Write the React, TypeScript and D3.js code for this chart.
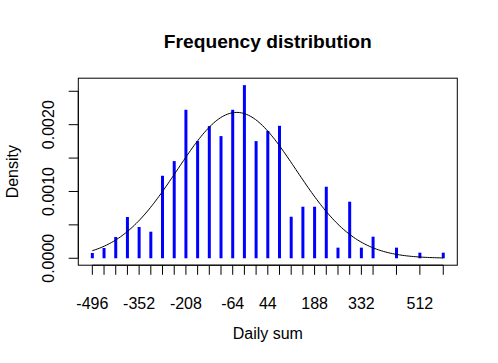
import React from "react";
import * as d3 from "d3";

const dailySums = [-496, -460, -424, -388, -352, -316, -280, -244, -208, -172, -136, -100, -64, -28, 8, 44, 80, 116, 152, 188, 224, 260, 296, 332, 368, 440, 512, 584];
const densities = [0.0000793, 0.000154, 0.000319, 0.000618, 0.000468, 0.000398, 0.001235, 0.001455, 0.002223, 0.001754, 0.001979, 0.001829, 0.002223, 0.002592, 0.001754, 0.001906, 0.001983, 0.000622, 0.000772, 0.000772, 0.001071, 0.000159, 0.000847, 0.000159, 0.000323, 0.000159, 0.000084, 0.000084];
const xLabelled = [-496, -352, -208, -64, 44, 188, 332, 512];
const yTicks = [0, 0.0005, 0.001, 0.0015, 0.002, 0.0025];
const yLabelled = [0, 0.001, 0.002];
const normalMean = -51.7;
const normalSd = 182.7;

const W = 498, H = 363;
const left = 78.3, right = 457.3, top = 78.2, bottom = 265.2;
const FONT = "'Liberation Sans', Arial, sans-serif";

export default function App() {
  const xmin = d3.min(dailySums)!, xmax = d3.max(dailySums)!;
  const xpad = (xmax - xmin) * 0.04;
  const x = d3.scaleLinear().domain([xmin - xpad, xmax + xpad]).range([left, right]);
  const ymax = d3.max(densities)!;
  const ypad = ymax * 0.04;
  const y = d3.scaleLinear().domain([-ypad, ymax + ypad]).range([bottom, top]);

  const curvePts: [number, number][] = d3.range(0, 201).map((i) => {
    const v = xmin + ((xmax - xmin) * i) / 200;
    const z = (v - normalMean) / normalSd;
    return [v, Math.exp(-0.5 * z * z) / (normalSd * Math.sqrt(2 * Math.PI))];
  });
  const line = d3.line<[number, number]>().x((d) => x(d[0])).y((d) => y(d[1]));
  const tick = 9.6;

  return (
    <div style={{ position: "absolute", left: 0, top: 0 }}>
      <svg width={W} height={H} style={{ display: "block", background: "#fff" }}>
        <rect x={0} y={0} width={W} height={H} fill="#fff" />
        {dailySums.map((s, i) => (
          <line key={s} x1={x(s)} x2={x(s)} y1={y(0)} y2={y(densities[i])} stroke="#0000ff" strokeWidth={3} />
        ))}
        <path d={line(curvePts)!} fill="none" stroke="#000" strokeWidth={1} />
        <rect x={left} y={top} width={right - left} height={bottom - top} fill="none" stroke="#000" strokeWidth={1} />
        {/* x axis */}
        <line x1={x(xmin)} x2={x(xmax)} y1={bottom} y2={bottom} stroke="#000" />
        {dailySums.map((s) => (
          <line key={"t" + s} x1={x(s)} x2={x(s)} y1={bottom} y2={bottom + tick} stroke="#000" />
        ))}
        {xLabelled.map((s) => (
          <text key={"l" + s} x={x(s)} y={309.3} textAnchor="middle" fontFamily={FONT} fontSize={16} fill="#000">
            {s}
          </text>
        ))}
        {/* y axis */}
        <line x1={left} x2={left} y1={y(0)} y2={y(0.0025)} stroke="#000" />
        {yTicks.map((v) => (
          <line key={"yt" + v} x1={left - tick} x2={left} y1={y(v)} y2={y(v)} stroke="#000" />
        ))}
        {yLabelled.map((v) => (
          <text key={"yl" + v} transform={`translate(54.3,${y(v)}) rotate(-90)`} textAnchor="middle" fontFamily={FONT} fontSize={16} fill="#000">
            {v.toFixed(4)}
          </text>
        ))}
        <text x={(left + right) / 2} y={47.7} textAnchor="middle" fontFamily={FONT} fontSize={19.2} fontWeight="bold" fill="#000">
          Frequency distribution
        </text>
        <text x={(left + right) / 2} y={339} textAnchor="middle" fontFamily={FONT} fontSize={16} fill="#000">
          Daily sum
        </text>
        <text transform={`translate(18,${(top + bottom) / 2}) rotate(-90)`} textAnchor="middle" fontFamily={FONT} fontSize={16} fill="#000">
          Density
        </text>
      </svg>
    </div>
  );
}
